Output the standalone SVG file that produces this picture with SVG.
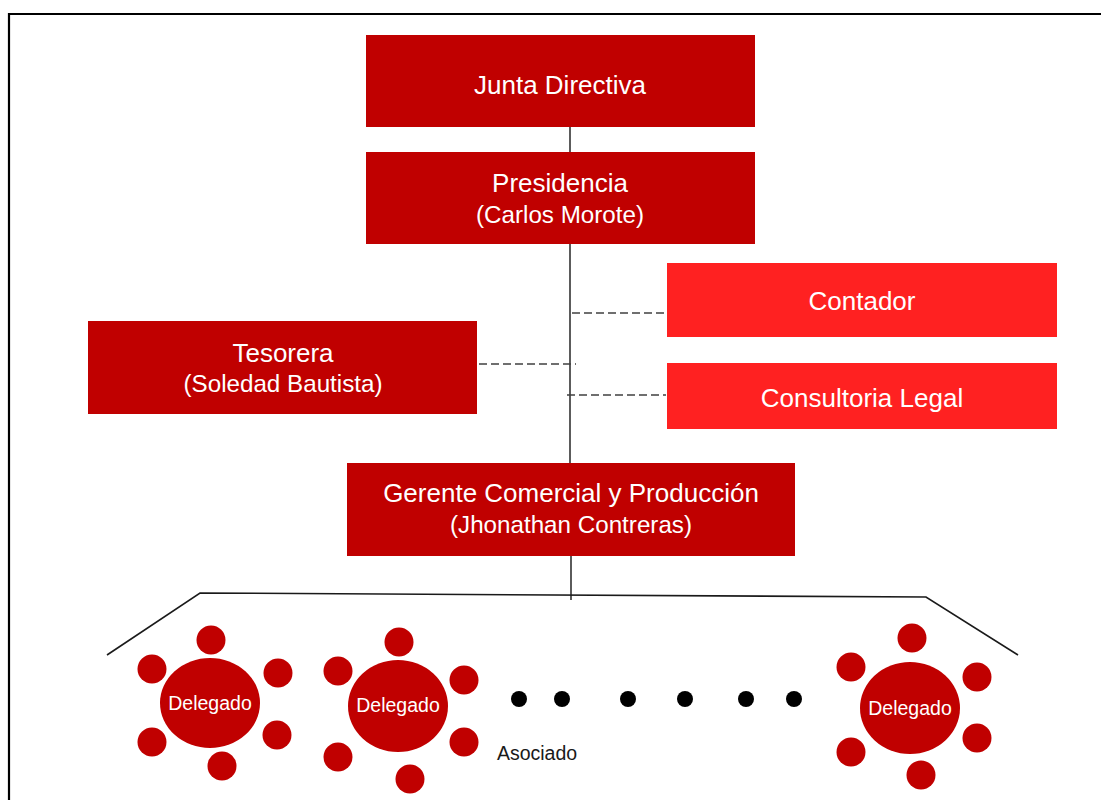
<svg xmlns="http://www.w3.org/2000/svg" width="1101" height="800" viewBox="0 0 1101 800">
<style>
.dk{fill:#C00000}
.br{fill:#FF2121}
.t{font-family:"Liberation Sans",Arial,sans-serif;fill:#FFFFFF;text-anchor:middle;font-size:26px}
.t2{font-family:"Liberation Sans",Arial,sans-serif;fill:#FFFFFF;text-anchor:middle;font-size:24.2px}
.s{font-family:"Liberation Sans",Arial,sans-serif;fill:#FFFFFF;text-anchor:middle;font-size:19.5px}
.ln{stroke:#333333;stroke-width:1.6;fill:none}
.ds{stroke:#404040;stroke-width:1.6;fill:none;stroke-dasharray:8 4}
.bl{stroke:#1a1a1a;stroke-width:1.6;fill:none}
</style>
<rect width="1101" height="800" fill="#FFFFFF"/>
<path d="M9,800 V14 H1101" fill="none" stroke="#000000" stroke-width="2.2"/>
<g id="connectors">
<line class="ln" x1="570" y1="127" x2="570" y2="152"/>
<line class="ln" x1="570" y1="244" x2="570" y2="463"/>
<line class="ln" x1="571" y1="556" x2="571" y2="600"/>
<line class="ds" x1="572" y1="313" x2="668" y2="313"/>
<line class="ds" x1="479" y1="364" x2="576" y2="364"/>
<line class="ds" x1="567" y1="395" x2="666" y2="395"/>
<path class="bl" d="M107,655 L200,593 L926,597 L1018,655"/>
</g>
<g id="junta">
<rect class="dk" x="366" y="35" width="389" height="92"/>
<text class="t" x="560" y="94">Junta Directiva</text>
</g>
<g id="presidencia">
<rect class="dk" x="366" y="152" width="389" height="92"/>
<text class="t" x="560" y="192">Presidencia</text>
<text class="t2" x="560" y="223">(Carlos Morote)</text>
</g>
<g id="contador">
<rect class="br" x="667" y="263" width="390" height="74"/>
<text class="t" x="862" y="310">Contador</text>
</g>
<g id="tesorera">
<rect class="dk" x="88" y="321" width="389" height="93"/>
<text class="t" x="283" y="362">Tesorera</text>
<text class="t2" x="283" y="392">(Soledad Bautista)</text>
</g>
<g id="consultoria">
<rect class="br" x="667" y="363" width="390" height="66"/>
<text class="t" x="862" y="407">Consultoria Legal</text>
</g>
<g id="gerente">
<rect class="dk" x="347" y="463" width="448" height="93"/>
<text class="t" x="571" y="502">Gerente Comercial y Producción</text>
<text class="t2" x="571" y="533">(Jhonathan Contreras)</text>
</g>
<g id="delegado1">
<circle class="dk" cx="211" cy="640" r="14.5"/>
<circle class="dk" cx="152" cy="669" r="14.5"/>
<circle class="dk" cx="278" cy="673" r="14.5"/>
<circle class="dk" cx="152" cy="742" r="14.5"/>
<circle class="dk" cx="277" cy="735" r="14.5"/>
<circle class="dk" cx="222" cy="766" r="14.5"/>
<ellipse class="dk" cx="210" cy="703" rx="50" ry="45"/>
<text class="s" x="210" y="710">Delegado</text>
</g>
<g id="delegado2">
<circle class="dk" cx="399" cy="642" r="14.5"/>
<circle class="dk" cx="338" cy="671" r="14.5"/>
<circle class="dk" cx="464" cy="680" r="14.5"/>
<circle class="dk" cx="338" cy="757" r="14.5"/>
<circle class="dk" cx="464" cy="742" r="14.5"/>
<circle class="dk" cx="410" cy="779" r="14.5"/>
<ellipse class="dk" cx="398" cy="706" rx="50" ry="46"/>
<text class="s" x="398" y="712">Delegado</text>
</g>
<g id="delegado3">
<circle class="dk" cx="912" cy="638" r="14.5"/>
<circle class="dk" cx="851" cy="667" r="14.5"/>
<circle class="dk" cx="977" cy="677" r="14.5"/>
<circle class="dk" cx="851" cy="752" r="14.5"/>
<circle class="dk" cx="977" cy="738" r="14.5"/>
<circle class="dk" cx="921" cy="775" r="14.5"/>
<ellipse class="dk" cx="910" cy="708" rx="50" ry="46"/>
<text class="s" x="910" y="715">Delegado</text>
</g>
<g id="asociados">
<circle cx="519" cy="699" r="8" fill="#000"/>
<circle cx="562" cy="699" r="8" fill="#000"/>
<circle cx="628" cy="699" r="8" fill="#000"/>
<circle cx="685" cy="699" r="8" fill="#000"/>
<circle cx="746" cy="699" r="8" fill="#000"/>
<circle cx="794" cy="699" r="8" fill="#000"/>
<text x="537" y="760" font-family="Liberation Sans,Arial,sans-serif" font-size="19.5" fill="#1a1a1a" text-anchor="middle">Asociado</text>
</g>
</svg>
